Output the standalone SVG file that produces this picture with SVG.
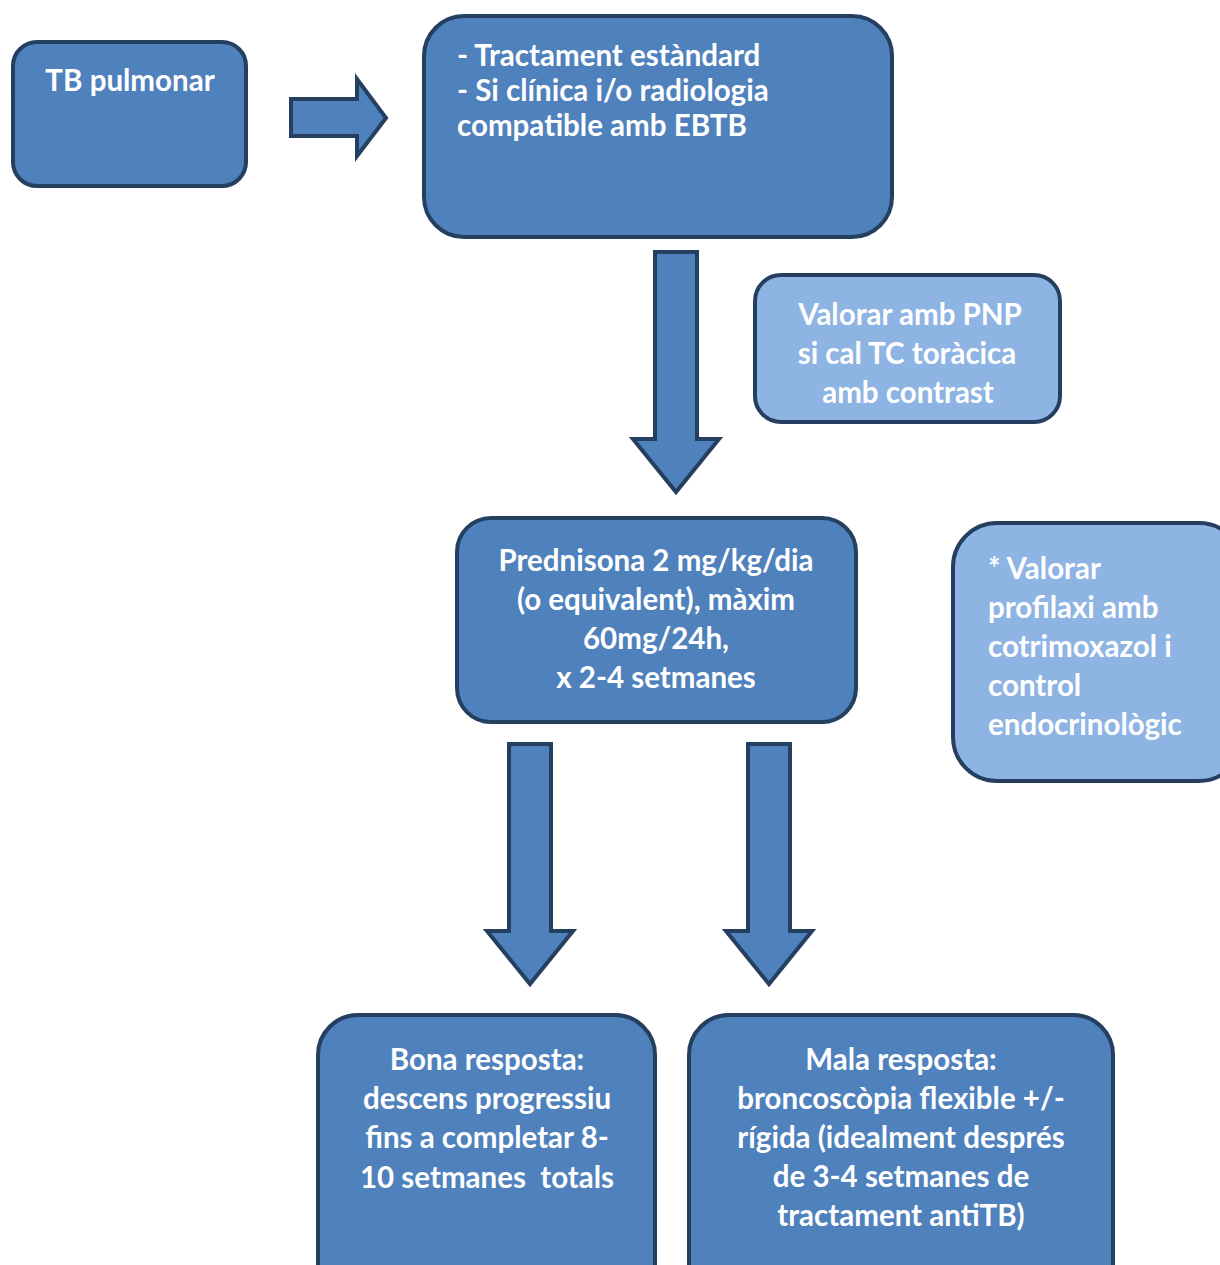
<svg xmlns="http://www.w3.org/2000/svg" width="1220" height="1265" viewBox="0 0 1220 1265">
<style>
.box{fill:#4f81bd;stroke:#243f60;stroke-width:4}
.lbox{fill:#8eb4e3;stroke:#243f60;stroke-width:4}
.arr{fill:#4f81bd;stroke:#243f60;stroke-width:4;stroke-linejoin:miter}
text{font-family:Lato,"Open Sans","Liberation Sans",sans-serif;font-weight:bold;font-size:29.5px;fill:#ffffff}
.c{text-anchor:middle}
</style>
<rect width="1220" height="1265" fill="#ffffff"/>
<g id="connectors">
<polygon class="arr" points="291,99 357,99 357,79 386,118 357,156 357,136 291,136"/>
<polygon class="arr" points="655,252 697,252 697,439 719,439 676,492 633,439 655,439"/>
<polygon class="arr" points="509,744 551,744 551,931 573,931 530,984 487,931 509,931"/>
<polygon class="arr" points="748,744 790,744 790,931 812,931 769,984 726,931 748,931"/>
</g>
<g id="tb">
<rect class="box" x="13" y="42" width="233" height="144" rx="24"/>
<text class="c" x="130" y="91">TB pulmonar</text>
</g>
<g id="tractament">
<rect class="box" x="424" y="16" width="468" height="221" rx="40"/>
<text x="457" y="66">- Tractament estàndard</text>
<text x="457" y="101">- Si clínica i/o radiologia</text>
<text x="457" y="136">compatible amb EBTB</text>
</g>
<g id="pnp">
<rect class="lbox" x="755" y="275" width="305" height="147" rx="26"/>
<text class="c" x="910" y="325">Valorar amb PNP</text>
<text class="c" x="907" y="364">si cal TC toràcica</text>
<text class="c" x="908" y="403">amb contrast</text>
</g>
<g id="prednisona">
<rect class="box" x="457" y="518" width="399" height="204" rx="34"/>
<text class="c" x="656" y="571">Prednisona 2 mg/kg/dia</text>
<text class="c" x="656" y="610">(o equivalent), màxim</text>
<text class="c" x="656" y="649">60mg/24h,</text>
<text class="c" x="656" y="688">x 2-4 setmanes</text>
</g>
<g id="profilaxi">
<rect class="lbox" x="953" y="523" width="290" height="258" rx="44"/>
<text x="988" y="579">* Valorar</text>
<text x="988" y="618">profilaxi amb</text>
<text x="988" y="657">cotrimoxazol i</text>
<text x="988" y="696">control</text>
<text x="988" y="735">endocrinològic</text>
</g>
<g id="bona">
<rect class="box" x="318" y="1015" width="337" height="290" rx="40"/>
<text class="c" x="487" y="1070">Bona resposta:</text>
<text class="c" x="487" y="1109">descens progressiu</text>
<text class="c" x="487" y="1148">fins a completar 8-</text>
<text class="c" x="487" y="1188" xml:space="preserve">10 setmanes  totals</text>
</g>
<g id="mala">
<rect class="box" x="689" y="1015" width="424" height="290" rx="40"/>
<text class="c" x="901" y="1070">Mala resposta:</text>
<text class="c" x="901" y="1109">broncoscòpia flexible +/-</text>
<text class="c" x="901" y="1148">rígida (idealment després</text>
<text class="c" x="901" y="1187">de 3-4 setmanes de</text>
<text class="c" x="901" y="1226">tractament antiTB)</text>
</g>
</svg>
